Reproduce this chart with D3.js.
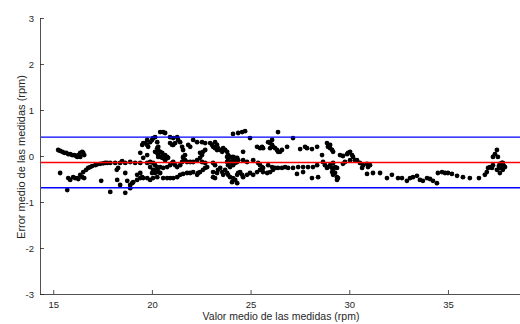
<!DOCTYPE html>
<html>
<head>
<meta charset="utf-8">
<script src="https://cdn.jsdelivr.net/npm/d3@7/dist/d3.min.js"></script>
<style>
  html, body { margin: 0; padding: 0; background: #ffffff; }
  svg { display: block; }
</style>
</head>
<body>
<svg id="chart" width="520" height="324"></svg>
<script>
// Valor medio de las medidas (rpm) — eje X
const medias = [
  15.25,15.35,15.46,15.56,15.66,15.76,15.86,15.96,16.06,16.16,16.27,16.37,16.47,16.52,16.57,16.22,16.37,
  15.35,15.71,15.76,15.86,16.01,16.11,16.22,16.27,16.37,16.47,16.52,16.57,16.67,16.77,16.87,16.97,17.13,17.23,17.38,17.53,17.63,17.73,17.89,18.14,18.39,18.65,18.90,19.15,
  17.43,17.89,18.24,18.39,18.29,18.65,18.75,18.90,19.00,19.05,19.25,19.41,19.51,18.65,18.90,19.41,18.22,18.49,
  19.41,19.51,19.56,19.76,19.91,19.81,20.06,20.27,20.32,20.27,20.32,19.76,19.91,20.06,20.16,20.27,19.91,20.06,
  20.42,20.57,20.67,20.92,21.08,21.28,21.33,21.43,20.01,20.16,22.09,22.29,22.54,22.70,21.84,21.94,20.92,21.03,21.08,21.18,21.53,21.58,
  19.66,19.76,19.76,19.56,
  20.27,20.32,20.42,20.52,20.57,20.32,20.42,20.52,20.57,20.67,20.77,20.27,20.16,20.67,20.77,20.82,
  19.91,20.06,20.16,20.27,20.32,20.42,20.57,20.77,20.92,21.03,21.08,21.18,21.28,21.43,21.53,21.58,21.68,21.78,21.94,22.09,22.29,22.44,22.54,22.70,
  21.08,21.28,21.43,21.58,21.78,21.94,22.09,20.57,20.77,20.92,
  19.25,19.41,19.56,19.76,20.01,20.16,20.32,20.42,
  22.29,22.34,22.44,22.59,22.70,22.80,22.44,22.54,22.59,22.70,21.58,21.68,
  24.11,24.37,24.57,24.72,26.39,24.97,
  22.95,23.05,23.10,23.20,23.30,23.35,23.46,23.56,23.61,23.71,23.81,23.20,23.30,
  23.81,23.86,23.96,24.06,24.11,24.22,23.86,23.96,24.06,24.11,24.22,24.32,23.81,23.86,23.96,24.11,24.22,24.32,24.37,
  24.62,25.13,25.33,25.48,25.58,25.63,25.89,25.99,26.09,26.14,26.24,26.34,26.39,26.49,26.59,26.09,25.99,26.85,
  23.10,23.20,24.62,24.82,25.38,25.48,25.58,25.63,25.89,26.09,26.24,26.39,26.59,26.75,26.90,
  23.10,23.30,23.35,23.46,23.56,23.61,23.71,23.81,23.86,23.96,24.11,24.32,24.37,24.47,24.57,24.62,24.82,24.97,25.13,25.33,25.48,25.63,25.84,25.99,26.14,
  23.10,23.20,24.22,24.32,24.06,
  27.15,27.51,27.76,27.86,28.11,28.37,28.87,28.92,29.03,29.13,29.18,29.03,28.62,29.53,29.68,29.89,29.94,30.04,30.14,30.19,30.04,30.29,30.39,30.54,30.65,30.70,30.90,30.95,30.90,
  27.15,27.41,27.66,27.91,28.16,28.37,27.35,27.66,28.11,28.42,
  28.67,28.77,28.87,28.92,29.03,29.13,29.18,29.28,29.38,29.43,29.38,29.18,29.13,29.28,29.18,29.38,29.68,29.78,
  31.05,31.20,31.56,31.91,32.16,32.47,32.67,32.92,33.08,33.23,33.43,33.58,33.73,33.94,34.09,34.24,34.44,34.49,34.70,34.85,35.00,
  35.20,35.46,35.76,36.11,36.57,36.87,36.97,37.03,37.13,37.23,37.28,37.48,37.38,37.28,37.53,37.63,37.73,37.78,37.89,37.73,37.78,37.63,37.48,37.63,37.68,37.84,37.78,37.58
];
// Error medio de las medidas (rpm) — eje Y
const errores = [
  0.13,0.11,0.09,0.07,0.07,0.04,0.04,0.02,0.02,0.00,0.02,0.07,0.09,0.07,0.02,-0.02,-0.02,
  -0.37,-0.74,-0.48,-0.52,-0.46,-0.48,-0.48,-0.50,-0.41,-0.46,-0.35,-0.48,-0.30,-0.26,-0.24,-0.22,-0.20,-0.18,-0.17,-0.16,-0.15,-0.15,-0.15,-0.15,-0.15,-0.15,-0.13,-0.15,
  -0.54,-0.78,-0.52,-0.63,-0.26,-0.37,-0.54,-0.63,-0.59,-0.57,-0.52,-0.48,-0.46,-0.80,-0.70,-0.15,-0.30,-0.11,
  0.07,0.24,0.28,0.35,0.30,0.20,0.39,0.30,0.20,0.07,-0.02,-0.15,-0.24,-0.30,-0.37,-0.46,-0.52,-0.48,
  0.52,0.52,0.50,0.41,0.39,0.41,0.35,0.30,0.35,0.41,0.35,0.30,0.30,0.28,0.24,0.20,0.28,0.24,0.24,0.28,0.20,0.13,
  0.28,0.24,0.02,-0.04,
  0.17,0.13,0.09,0.07,0.02,0.02,-0.02,-0.04,-0.04,-0.09,-0.04,0.07,0.09,0.02,-0.02,-0.04,
  -0.13,-0.15,-0.20,-0.24,-0.26,-0.24,-0.26,-0.24,-0.20,-0.15,-0.13,-0.20,-0.24,-0.20,-0.13,-0.04,-0.09,-0.13,-0.13,-0.13,-0.09,-0.04,-0.13,-0.15,
  -0.48,-0.46,-0.41,-0.39,-0.37,-0.37,-0.35,-0.48,-0.48,-0.48,
  -0.41,-0.37,-0.48,-0.48,-0.37,-0.30,-0.35,-0.37,
  -0.41,-0.37,-0.35,-0.30,-0.26,-0.24,0.07,0.02,0.09,0.13,-0.02,0.02,
  0.48,0.50,0.52,0.54,0.52,0.39,
  0.28,0.24,0.20,0.17,0.13,0.17,0.13,0.09,0.17,0.13,0.09,0.30,0.24,
  -0.02,0.02,-0.02,-0.04,-0.02,-0.04,-0.09,-0.13,-0.15,-0.13,-0.09,-0.13,-0.13,-0.20,-0.24,-0.20,-0.15,-0.04,-0.09,
  0.09,-0.09,0.20,0.17,0.20,0.17,0.30,0.28,0.24,0.20,0.17,0.13,0.09,0.09,0.13,0.35,0.17,0.20,
  -0.15,-0.20,-0.09,-0.13,-0.15,-0.20,-0.24,-0.26,-0.20,-0.24,-0.26,-0.26,-0.26,-0.24,-0.26,
  -0.35,-0.37,-0.30,-0.26,-0.35,-0.41,-0.30,-0.37,-0.41,-0.46,-0.48,-0.41,-0.37,-0.35,-0.41,-0.46,-0.41,-0.37,-0.41,-0.35,-0.30,-0.35,-0.37,-0.35,-0.30,
  -0.46,-0.48,-0.52,-0.59,-0.57,
  0.39,0.15,0.20,0.17,0.15,0.20,0.28,0.20,0.17,0.13,0.09,0.24,0.02,0.02,0.00,0.04,0.07,0.09,0.02,-0.02,-0.09,-0.09,-0.09,-0.15,-0.26,-0.20,-0.17,-0.24,-0.39,
  -0.26,-0.24,-0.24,-0.24,-0.24,-0.20,-0.39,-0.35,-0.48,-0.46,
  -0.13,-0.20,-0.26,-0.24,-0.20,-0.26,-0.30,-0.37,-0.46,-0.48,-0.52,-0.41,-0.35,-0.24,-0.15,-0.26,-0.17,-0.13,
  -0.20,-0.37,-0.37,-0.48,-0.41,-0.48,-0.48,-0.54,-0.48,-0.46,-0.43,-0.52,-0.54,-0.48,-0.50,-0.54,-0.59,-0.37,-0.35,-0.37,-0.37,
  -0.39,-0.43,-0.46,-0.48,-0.48,-0.41,-0.35,-0.26,-0.24,-0.26,-0.20,0.13,0.04,-0.02,-0.02,-0.17,-0.15,-0.20,-0.24,-0.26,-0.30,-0.26,-0.30,-0.37,-0.20,-0.22,-0.15,-0.22
];
// Límites de concordancia: superior, media, inferior
const limites = [0.41, -0.14, -0.69];
const limiteColores = ["#0000ff", "#ff0000", "#0000ff"];
const xTicks = [15, 20, 25, 30, 35];
const yTicks = [-3, -2, -1, 0, 1, 2, 3];
const xTitulo = "Valor medio de las medidas (rpm)";
const yTitulo = "Error medio de las medidas (rpm)";

const n = Math.min(medias.length, errores.length);
const puntos = d3.range(n).map(i => ({x: medias[i], y: errores[i]}));

const svg = d3.select("#chart");
const x = d3.scaleLinear().domain([14.33, 38.65]).range([40, 520]);
const y = d3.scaleLinear().domain([-3, 3]).range([294, 18]);
const axisColor = "#262626";
const font = "'Liberation Sans', Arial, Helvetica, sans-serif";

// X axis (ticks inward)
const gx = svg.append("g").attr("transform", "translate(0,294)")
  .call(d3.axisBottom(x).tickValues(xTicks).tickSize(-4).tickPadding(7).tickFormat(d3.format("d")));
gx.select(".domain").attr("d", "M40.5,0.5H520").attr("stroke", axisColor).attr("stroke-width", 0.8);
gx.selectAll(".tick line").attr("stroke", axisColor).attr("stroke-width", 0.8);
gx.selectAll(".tick text").attr("fill", axisColor).style("font-family", font).style("font-size", "9.5px");

// Y axis (ticks inward)
const gy = svg.append("g").attr("transform", "translate(40,0)")
  .call(d3.axisLeft(y).tickValues(yTicks).tickSize(-4).tickPadding(6).tickFormat(d3.format("d")));
gy.select(".domain").attr("d", "M0.5,18V294.5").attr("stroke", axisColor).attr("stroke-width", 0.8);
gy.selectAll(".tick line").attr("stroke", axisColor).attr("stroke-width", 0.8);
gy.selectAll(".tick text").attr("fill", axisColor).style("font-family", font).style("font-size", "9.5px")
  .text(d => d < 0 ? "-" + Math.abs(d) : String(d));

// Points
svg.append("g").selectAll("circle").data(puntos).join("circle")
  .attr("cx", d => x(d.x)).attr("cy", d => y(d.y)).attr("r", 2.4).attr("fill", "#000000");

// Limit lines
svg.append("g").selectAll("line").data(limites).join("line")
  .attr("x1", x.range()[0] + 1).attr("x2", x.range()[1])
  .attr("y1", d => y(d)).attr("y2", d => y(d))
  .attr("stroke", (d, i) => limiteColores[i]).attr("stroke-width", 1.4);

// Axis titles
svg.append("text").attr("x", 281).attr("y", 320).attr("text-anchor", "middle")
  .attr("fill", axisColor).style("font-family", font).style("font-size", "10.5px").text(xTitulo);
svg.append("text").attr("transform", "translate(25,157) rotate(-90)").attr("text-anchor", "middle")
  .attr("fill", axisColor).style("font-family", font).style("font-size", "11px").text(yTitulo);
</script>
</body>
</html>
